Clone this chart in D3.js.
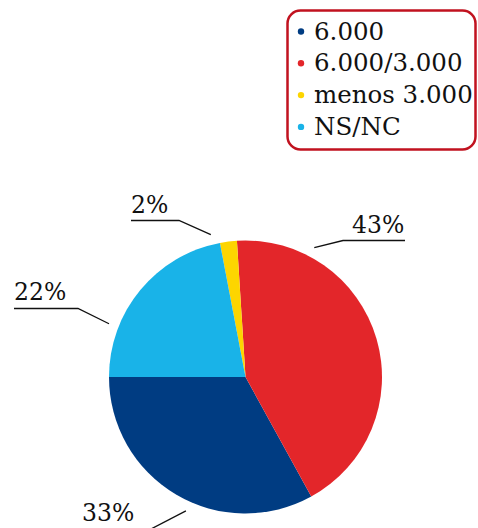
<!DOCTYPE html>
<html>
<head>
<meta charset="utf-8">
<script src="https://cdn.jsdelivr.net/npm/d3@7"></script>
<style>
  html, body { margin: 0; padding: 0; background: #fff; }
  svg { display: block; }
  text { font-family: "DejaVu Serif", serif; fill: #111; }
</style>
</head>
<body>
<svg id="chart" width="478" height="528"></svg>
<script>
// Categories, in legend order
const categories = ["6.000", "6.000/3.000", "menos 3.000", "NS/NC"];
// Share of answers (%)
const values = [33, 43, 2, 22];
const colors = ["#003c82", "#e3262a", "#fdd500", "#19b3e8"];

// Leader-line layout for each slice label: anchor angle on the rim (degrees,
// clockwise from 12 o'clock), elbow point and text position.
const labelLayout = [
  { angle: 204,   elbow: [151, 529], text: [82, 521] },
  { angle: 28,    elbow: [343, 240.5], end: [405, 240.5], text: [352, 233] },
  { angle: -13.7, elbow: [179, 220.5], end: [131, 220.5], text: [131, 213] },
  { angle: -68.7, elbow: [78, 308.5], end: [14, 308.5], text: [14, 300] }
];

const svg = d3.select("#chart");
const cx = 245.5, cy = 377, radius = 136.5;

const data = categories.map((c, i) => ({ category: c, value: values[i], color: colors[i], layout: labelLayout[i] }));

// Slices run counter-clockwise, starting at 9 o'clock
const pie = d3.pie()
  .value(d => d.value)
  .sort(null)
  .startAngle(1.5 * Math.PI)
  .endAngle(-0.5 * Math.PI);

const arc = d3.arc().innerRadius(0).outerRadius(radius);

const g = svg.append("g").attr("transform", `translate(${cx},${cy})`);
g.selectAll("path.slice")
  .data(pie(data))
  .join("path")
  .attr("class", "slice")
  .attr("d", arc)
  .attr("fill", d => d.data.color);

// Slice labels with leader lines
const anchorR = radius + 10;
const labels = svg.append("g");
data.forEach(d => {
  const L = d.layout;
  const a = L.angle * Math.PI / 180;
  const ax = cx + anchorR * Math.sin(a);
  const ay = cy - anchorR * Math.cos(a);
  const pts = [[ax, ay], L.elbow];
  if (L.end) pts.push(L.end);
  labels.append("path")
    .attr("d", d3.line()(pts))
    .attr("fill", "none")
    .attr("stroke", "#111")
    .attr("stroke-width", 1.3);
  labels.append("text")
    .attr("x", L.text[0])
    .attr("y", L.text[1])
    .attr("font-size", 23.5)
    .text(d.value + "%");
});

// Legend
const legend = svg.append("g");
legend.append("rect")
  .attr("x", 287.5).attr("y", 10.5)
  .attr("width", 188).attr("height", 139)
  .attr("rx", 13).attr("ry", 13)
  .attr("fill", "#fff")
  .attr("stroke", "#c1121f")
  .attr("stroke-width", 2.5);

const rowY = d3.scaleLinear().domain([0, 1]).range([39.5, 71.3]);
const items = legend.selectAll("g.item")
  .data(data)
  .join("g")
  .attr("class", "item")
  .attr("transform", (d, i) => `translate(0,${rowY(i)})`);
items.append("circle")
  .attr("cx", 301).attr("cy", -8)
  .attr("r", 3.2)
  .attr("fill", d => d.color);
items.append("text")
  .attr("x", 314).attr("y", 0)
  .attr("font-size", 24.5)
  .text(d => d.category);
</script>
</body>
</html>
